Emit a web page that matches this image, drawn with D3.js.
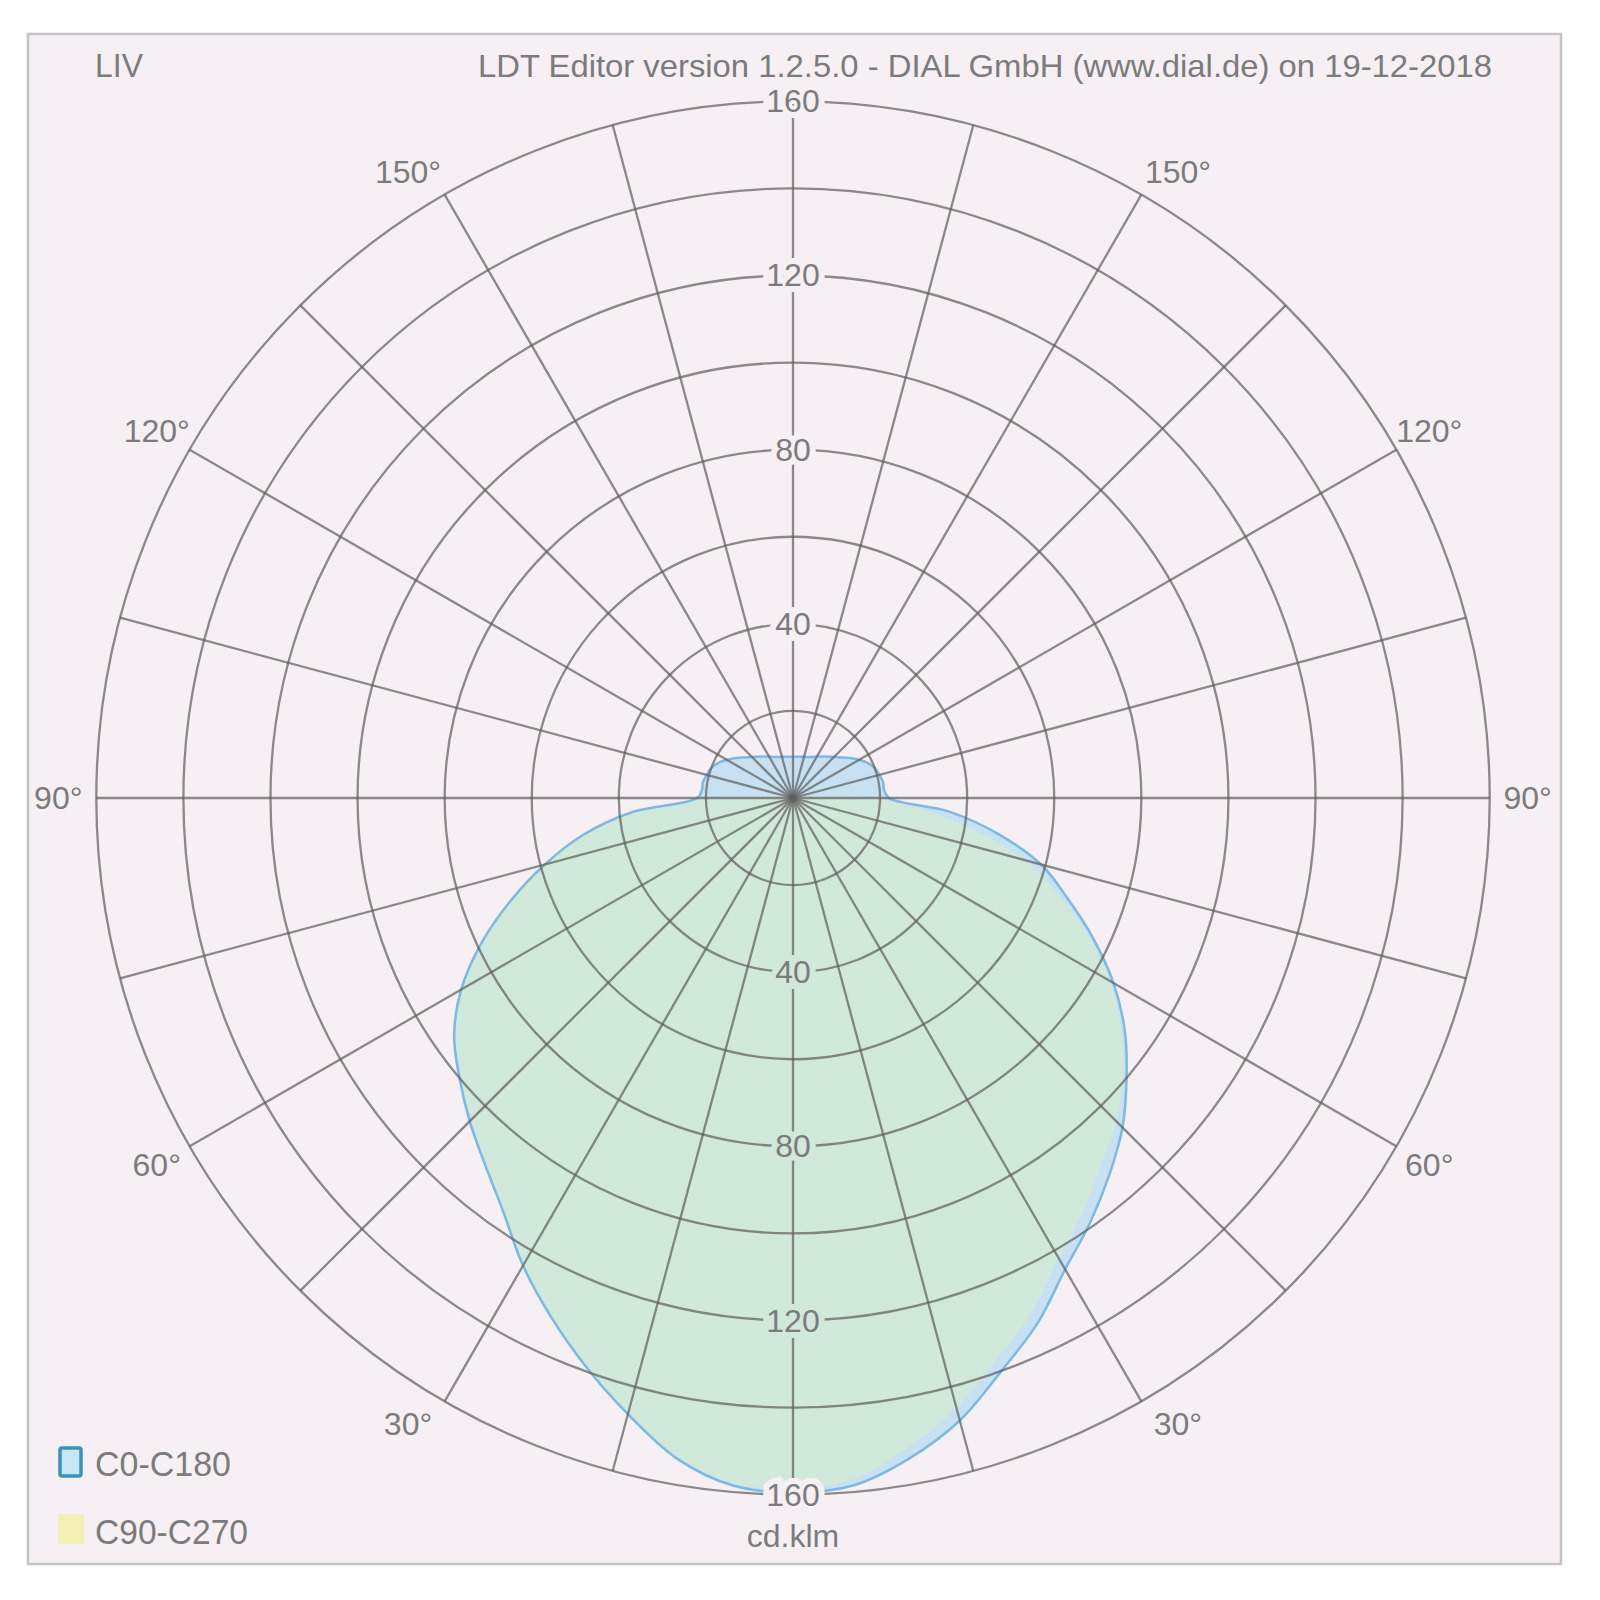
<!DOCTYPE html>
<html>
<head>
<meta charset="utf-8">
<script src="https://cdn.jsdelivr.net/npm/d3@7"></script>
<style>
  html, body { margin: 0; padding: 0; background: #ffffff; }
  svg { display: block; }
  text { font-family: "Liberation Sans", Arial, sans-serif; fill: #7b7b7b; }
</style>
</head>
<body>
<svg id="chart" width="1600" height="1600"></svg>
<script>
// ---------- DATA ----------
const headerLeft = "LIV";
const headerRight = "LDT Editor version 1.2.5.0 - DIAL GmbH (www.dial.de) on 19-12-2018";
const unitLabel = "cd.klm";

// gamma angles (deg from nadir)
const gammaFull = [0,5,10,15,20,25,30,35,40,45,50,55,60,65,70,75,80,85,90,
                   95,100,105,110,115,120,125,130,135,140,145,150,155,160,165,170,175,180];
const gammaLower = [0,5,10,15,20,25,30,35,40,45,50,55,60,65,70,75,80,85,90];

// C0-C180 plane (cd/klm)
const c0Values   = [159.5,158.5,154,148,140,133,125,119,113,107,100,93,85,76,67,59,48,36,22,
                    21,21,20.5,20,19,17.5,16,14.5,13.3,12.4,11.6,11,10.4,10,9.8,9.6,9.5,9.5];
const c180Values = [159.5,158.5,154,146.5,139,131.5,124,116,110,105,100,95,88,79,69,59,49,37,22,
                    21,21,20.5,20,19,17.5,16,14.5,13.3,12.4,11.6,11,10.4,10,9.8,9.6,9.5,9.5];
// C90-C270 plane (cd/klm), no uplight
const c90Values  = [158.5,157,151.5,145,137,130,122,116,110,105,99,92,84,75,65,55,42,30,18];
const c270Values = [159,158,153.5,146,138.5,131,123.5,115.5,109.5,104.5,99.5,94.5,87.5,78.5,68.5,58.5,48,36,19];

const ringValues = [20,40,60,80,100,120,140,160];
const radialTickValues = [40,80,120,160];
const spokeAngles = d3.range(0,360,15);
const angleLabelValues = [30,60,90,120,150];
const legendItems = ["C0-C180","C90-C270"];

// ---------- LAYOUT ----------
const svg = d3.select("#chart");
const cx = 793, cy = 798, R = 696.7;
const rScale = d3.scaleLinear().domain([0,160]).range([0,R]);
const bg = "#f6f0f4";
const gridColor = "rgba(95,95,95,0.72)";

// frame
svg.append("rect").attr("x",28).attr("y",34).attr("width",1533).attr("height",1530)
  .attr("fill",bg).attr("stroke","#c4c4c4").attr("stroke-width",2.5);

const g = svg.append("g").attr("transform",`translate(${cx},${cy})`);

// gamma (deg from nadir) -> lineRadial angle (rad, clockwise from up)
const rightA = gm => Math.PI - gm*Math.PI/180;
const leftA  = gm => Math.PI + gm*Math.PI/180;

// curves
const radial = d3.lineRadial().angle(d => d[0]).radius(d => rScale(d[1]))
  .curve(d3.curveCatmullRomClosed.alpha(0.5));

const bluePts = gammaFull.map((gm,i) => [rightA(gm), c0Values[i]])
  .concat(gammaFull.slice().reverse().slice(1, -1).map(gm => [leftA(gm), c180Values[gammaFull.indexOf(gm)]]));
const yellowPts = gammaLower.map((gm,i) => [rightA(gm), c90Values[i]])
  .concat([[0, 0]])
  .concat(gammaLower.slice().reverse().slice(0, -1).map(gm => [leftA(gm), c270Values[gammaLower.indexOf(gm)]]));

const bluePath = radial(bluePts);
const yellowPath = radial(yellowPts);

const defs = svg.append("defs");
defs.append("clipPath").attr("id","blueClip").append("path").attr("d", bluePath);

const fills = g.append("g");
fills.append("path").attr("d", yellowPath).attr("fill", "#f2f0bf");
fills.append("path").attr("d", bluePath).attr("fill", "#c8e1f2");
fills.append("path").attr("d", yellowPath).attr("fill", "#d1e9da").attr("clip-path","url(#blueClip)");

g.append("path").attr("d", bluePath).attr("fill","none")
  .attr("stroke","#7db9e0").attr("stroke-width",2.5);

// grid: rings
g.append("g").selectAll("circle").data(ringValues).join("circle")
  .attr("r", d => rScale(d)).attr("fill","none")
  .attr("stroke",gridColor).attr("stroke-width",2.3);

// grid: spokes
g.append("g").selectAll("line").data(spokeAngles).join("line")
  .attr("x1",0).attr("y1",0)
  .attr("x2", d => rScale(160)*Math.sin(d*Math.PI/180))
  .attr("y2", d => rScale(160)*Math.cos(d*Math.PI/180))
  .attr("stroke",gridColor).attr("stroke-width",2.3);

// radial tick labels (up and down)
const tickData = [];
radialTickValues.forEach(v => { tickData.push({v, y:-rScale(v), halo:bg}); });
radialTickValues.forEach(v => { tickData.push({v, y:rScale(v), halo: v===160 ? bg : "#d1e9da"}); });
g.append("g").selectAll("text").data(tickData).join("text")
  .attr("x",0).attr("y", d => d.y)
  .attr("text-anchor","middle").attr("dominant-baseline","central")
  .attr("font-size",32)
  .attr("stroke", d => d.halo).attr("stroke-width",12).attr("paint-order","stroke")
  .text(d => d.v);

// angle labels
const angData = [];
angleLabelValues.forEach(a => { angData.push({a, s:1}); angData.push({a, s:-1}); });
const rl = R + 38;
const labelShift = a => (a === 30 ? 1.6 : a === 150 ? -1.6 : 0); // small outward nudge
g.append("g").selectAll("text").data(angData).join("text")
  .attr("x", d => d.s*rl*Math.sin((d.a + labelShift(d.a))*Math.PI/180))
  .attr("y", d => rl*Math.cos((d.a + labelShift(d.a))*Math.PI/180))
  .attr("text-anchor","middle").attr("dominant-baseline","central")
  .attr("font-size",32)
  .text(d => d.a + "°");

// unit label
svg.append("text").attr("x",cx).attr("y",1547).attr("text-anchor","middle")
  .attr("font-size",32).text(unitLabel);

// header
svg.append("text").attr("x",95).attr("y",77).attr("font-size",33)
  .attr("textLength",48).attr("lengthAdjust","spacingAndGlyphs").text(headerLeft);
svg.append("text").attr("x",478).attr("y",77).attr("font-size",32)
  .attr("textLength",1014).attr("lengthAdjust","spacingAndGlyphs").text(headerRight);

// legend
const lg = svg.append("g");
lg.append("rect").attr("x",60).attr("y",1448).attr("width",21).attr("height",28).attr("rx",2)
  .attr("fill","#c9e6f6").attr("stroke","#3d92b8").attr("stroke-width",3.5);
lg.append("rect").attr("x",58).attr("y",1514).attr("width",26).attr("height",30)
  .attr("fill","#f2f0b4");
lg.selectAll("text.lg").data(legendItems).join("text").attr("class","lg")
  .attr("x",95).attr("y",(d,i) => 1476 + i*68)
  .attr("font-size",35)
  .attr("textLength",(d,i) => i===0 ? 136 : 153).attr("lengthAdjust","spacingAndGlyphs")
  .text(d => d);
</script>
</body>
</html>
